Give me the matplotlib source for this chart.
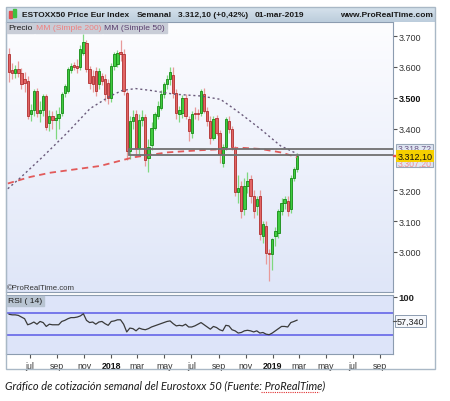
import matplotlib
matplotlib.use('Agg')
import matplotlib.pyplot as plt
import matplotlib.dates as mdates
import numpy as np
import pandas as pd
from matplotlib.patches import Rectangle
from matplotlib.colors import LinearSegmentedColormap

# weekly candles, ESTOXX50
weeks = pd.date_range('2017-05-15', periods=94, freq='7D')
opens = [3641, 3590, 3580, 3592, 3582, 3560, 3554, 3446, 3462, 3522,
         3451, 3462, 3506, 3419, 3440, 3428, 3436, 3452, 3517, 3522,
         3590, 3605, 3603, 3600, 3647, 3679, 3593, 3571, 3587, 3544,
         3571, 3560, 3549, 3500, 3603, 3609, 3650, 3641, 3516, 3326,
         3426, 3446, 3337, 3429, 3437, 3305, 3348, 3402, 3440, 3468,
         3511, 3544, 3560, 3575, 3515, 3446, 3450, 3500, 3431, 3387,
         3452, 3450, 3452, 3512, 3458, 3425, 3371, 3436, 3387, 3290,
         3339, 3425, 3398, 3333, 3193, 3214, 3138, 3214, 3236, 3182,
         3149, 3182, 3052, 3084, 2998, 2992, 3052, 3063, 3133, 3160,
         3165, 3138, 3241, 3268]
highs = [3662, 3612, 3605, 3620, 3596, 3585, 3570, 3480, 3530, 3532,
         3490, 3512, 3514, 3462, 3456, 3460, 3470, 3520, 3546, 3600,
         3612, 3616, 3626, 3670, 3706, 3688, 3603, 3590, 3600, 3596,
         3582, 3576, 3560, 3612, 3650, 3656, 3687, 3660, 3522, 3442,
         3462, 3462, 3446, 3462, 3446, 3365, 3420, 3455, 3490, 3525,
         3550, 3575, 3600, 3600, 3530, 3475, 3510, 3512, 3440, 3456,
         3470, 3465, 3530, 3532, 3470, 3440, 3440, 3445, 3395, 3350,
         3438, 3442, 3410, 3345, 3250, 3230, 3240, 3260, 3250, 3200,
         3180, 3200, 3100, 3100, 3010, 3045, 3080, 3140, 3175, 3180,
         3180, 3250, 3275, 3322]
lows = [3550, 3560, 3565, 3566, 3528, 3520, 3430, 3425, 3440, 3438,
        3420, 3440, 3395, 3392, 3400, 3365, 3398, 3440, 3502, 3515,
        3580, 3590, 3582, 3590, 3640, 3585, 3530, 3520, 3505, 3530,
        3540, 3490, 3480, 3486, 3590, 3600, 3620, 3510, 3298, 3300,
        3400, 3308, 3318, 3410, 3280, 3260, 3330, 3395, 3430, 3460,
        3500, 3530, 3540, 3500, 3430, 3420, 3436, 3430, 3360, 3370,
        3430, 3428, 3440, 3450, 3410, 3350, 3362, 3380, 3290, 3275,
        3330, 3385, 3330, 3180, 3160, 3110, 3120, 3190, 3160, 3110,
        3120, 3040, 3030, 2960, 2906, 2940, 3020, 3045, 3120, 3140,
        3115, 3125, 3230, 3260]
closes = [3585, 3580, 3592, 3582, 3545, 3547, 3442, 3462, 3522, 3451,
          3460, 3506, 3405, 3440, 3428, 3436, 3448, 3511, 3538, 3592,
          3603, 3600, 3598, 3658, 3680, 3593, 3548, 3544, 3522, 3587,
          3556, 3511, 3500, 3603, 3641, 3647, 3641, 3522, 3326, 3426,
          3438, 3337, 3429, 3437, 3299, 3340, 3402, 3446, 3473, 3511,
          3544, 3562, 3585, 3515, 3450, 3462, 3500, 3441, 3393, 3447,
          3449, 3446, 3523, 3458, 3425, 3371, 3431, 3387, 3317, 3339,
          3430, 3398, 3339, 3193, 3209, 3133, 3214, 3230, 3182, 3133,
          3171, 3057, 3090, 2998, 2992, 3041, 3068, 3133, 3160, 3171,
          3133, 3241, 3268, 3312]
rsi = [68, 67, 67, 66, 63, 60, 49, 51, 54, 50,
       55, 53, 46, 50, 49, 49, 49, 55, 57, 60,
       62, 62, 63, 65, 69, 57, 53, 54, 50, 54,
       55, 51, 48, 55, 56, 58, 58, 50, 36, 43,
       42, 38, 43, 41, 40, 42, 45, 47, 49, 51,
       53, 55, 56, 51, 47, 48, 47, 50, 45, 45,
       47, 50, 53, 49, 45, 41, 46, 44, 40, 38,
       48, 47, 40, 38, 34, 35, 38, 39, 38, 36,
       38, 34, 35, 32, 31, 34, 38, 42, 46, 46,
       45, 53, 55, 57.34]

ma50_dates = ['2017-05-12', '2017-06-09', '2017-07-31', '2017-09-23', '2017-11-14',
              '2017-12-30', '2018-01-26', '2018-02-25', '2018-03-31', '2018-05-22',
              '2018-07-22', '2018-09-05', '2018-09-28', '2018-10-21', '2018-12-05',
              '2019-01-19', '2019-02-25']
ma50_vals = [3205, 3240, 3310, 3386, 3465, 3506, 3524, 3530, 3524, 3512,
             3506, 3495, 3472, 3448, 3398, 3344, 3318.72]
ma200_dates = ['2017-05-12', '2017-07-01', '2017-08-16', '2017-12-07', '2018-02-20',
               '2018-05-08', '2018-07-22', '2018-09-05', '2018-10-21', '2018-12-05',
               '2019-01-19', '2019-02-25']
ma200_vals = [3222, 3243, 3257, 3279, 3307, 3323, 3330, 3333, 3338, 3334,
              3323, 3307.2]

price_ticks = [3000, 3100, 3200, 3400, 3500, 3600, 3700]
price_labels = ['3.000', '3.100', '3.200', '3.400', '3.500', '3.600', '3.700']
month_ticks = ['2017-07-01', '2017-09-01', '2017-11-01', '2018-01-01', '2018-03-01',
               '2018-05-01', '2018-07-01', '2018-09-01', '2018-11-01', '2019-01-01',
               '2019-03-01', '2019-05-01', '2019-07-01', '2019-09-01']
month_labels = ['jul', 'sep', 'nov', '2018', 'mar', 'may', 'jul', 'sep', 'nov', '2019',
                'mar', 'may', 'jul', 'sep']
box_start = '2018-02-09'
box_top = 3333
box_bottom = 3316

W, H = 450, 402
fig = plt.figure(figsize=(W / 100, H / 100), dpi=100)
plt.rcParams['font.family'] = ['Liberation Sans', 'DejaVu Sans']


def rect(px0, py0, px1, py1):
    return [px0 / W, 1 - py1 / H, (px1 - px0) / W, (py1 - py0) / H]


xs = mdates.date2num(weeks)
xlim = (mdates.date2num(pd.Timestamp('2017-05-08')), mdates.date2num(pd.Timestamp('2019-09-30')))

# price panel
ax = fig.add_axes(rect(6, 23, 393, 293))
grad = LinearSegmentedColormap.from_list('g', ['#fdfdff', '#dfe6f8'])
ax.imshow(np.linspace(0, 1, 100).reshape(-1, 1), cmap=grad, extent=[0, 1, 0, 1],
          transform=ax.transAxes, aspect='auto', zorder=0)

o = np.array(opens); c = np.array(closes)
up = c >= o
body_lo = np.minimum(o, c)
body_h = np.maximum(np.abs(c - o), 3)
wick_col = np.where(up, '#7fd87f', '#e89a9a')
ax.vlines(xs, lows, highs, colors=wick_col, lw=0.9, zorder=2)
ax.bar(xs[up], body_h[up], bottom=body_lo[up], width=5.2, color='#3fcc3f',
       edgecolor='#158a15', linewidth=0.6, zorder=3)
ax.bar(xs[~up], body_h[~up], bottom=body_lo[~up], width=5.2, color='#e26565',
       edgecolor='#b02f2f', linewidth=0.6, zorder=3)

ax.plot(mdates.date2num(pd.to_datetime(ma200_dates)), ma200_vals, color='#e25a5a',
        lw=1.3, ls=(0, (3.5, 2.5)), zorder=4)
ax.plot(mdates.date2num(pd.to_datetime(ma50_dates)), ma50_vals, color='#6a5a7a',
        lw=1.0, ls=(0, (1.5, 2)), zorder=4)

x0 = mdates.date2num(pd.Timestamp(box_start))
ax.add_patch(Rectangle((x0, box_bottom), xlim[1] - x0 + 50, box_top - box_bottom,
                       fill=False, edgecolor='#707070', lw=1.3, zorder=5))

ax.set_xlim(*xlim)
ax.set_ylim(2870, 3746)
ax.set_xticks([])
ax.yaxis.tick_right()
ax.set_yticks(price_ticks)
ax.set_yticklabels(price_labels)
ax.tick_params(axis='y', labelsize=6.5, length=3, pad=1, color='#555555', labelcolor='#333333')
for t in ax.get_yticklabels():
    if t.get_text() == '3.500':
        t.set_fontweight('bold')
        t.set_color('#111111')
for s in ax.spines.values():
    s.set_color('#8c9cb0')

# RSI panel
rax = fig.add_axes(rect(6, 296, 393, 355))
rax.set_facecolor('#dde4f9')
rax.axhline(70, color='#5a5ae6', lw=1.1)
rax.axhline(30, color='#5a5ae6', lw=1.1)
rax.plot(xs, rsi, color='#3a3a3a', lw=0.9)
rax.set_xlim(*xlim)
rax.set_ylim(-4, 103)
rax.yaxis.tick_right()
rax.set_yticks([100])
rax.set_yticklabels(['100'])
rax.tick_params(axis='y', labelsize=6.8, length=3, pad=1, color='#555555', labelcolor='#222222')
rax.get_yticklabels()[0].set_fontweight('bold')
rax.set_xticks(mdates.date2num(pd.to_datetime(month_ticks)))
rax.set_xticklabels(month_labels)
rax.tick_params(axis='x', labelsize=6.3, length=3, pad=2, color='#555555', labelcolor='#333333')
for t in rax.get_xticklabels():
    if t.get_text() in ('2018', '2019'):
        t.set_fontweight('bold')
        t.set_color('#111111')
for s in rax.spines.values():
    s.set_color('#8c9cb0')

# overlay with title bar, labels, frame, caption (pixel coordinates)
ov = fig.add_axes([0, 0, 1, 1], zorder=10)
ov.patch.set_alpha(0)
tb = LinearSegmentedColormap.from_list('t', ['#d6e2ec', '#bccddc'])
ov.imshow(np.linspace(0, 1, 50).reshape(-1, 1), cmap=tb, extent=[6, 435, 22.5, 8],
          aspect='auto', zorder=1)
ov.add_patch(Rectangle((6, 8), 429, 362, fill=False, edgecolor='#a9b8c6', lw=1, zorder=2))
ov.add_patch(Rectangle((9, 11.5), 2.5, 7, color='#e05050', zorder=3))
ov.add_patch(Rectangle((13, 10), 2.5, 8, color='#40c040', zorder=3))
ov.text(21.5, 15.5, 'ESTOXX50 Price Eur Index', fontsize=6, fontweight='bold', va='center', color='#1a1a1a', zorder=3)
ov.text(137, 15.5, 'Semanal', fontsize=6, fontweight='bold', va='center', color='#1a1a1a', zorder=3)
ov.text(178, 15.5, '3.312,10 (+0,42%)', fontsize=6, fontweight='bold', va='center', color='#1a1a1a', zorder=3)
ov.text(255, 15.5, '01-mar-2019', fontsize=6, fontweight='bold', va='center', color='#1a1a1a', zorder=3)
ov.text(432.5, 15.5, 'www.ProRealTime.com', fontsize=6, fontweight='bold', va='center', ha='right', color='#1a1a1a', zorder=3)

ov.add_patch(Rectangle((6.5, 23.5), 27, 10, color='#c9cdd7', zorder=3))
ov.add_patch(Rectangle((34.5, 23.5), 67.5, 10, color='#c9cdd7', zorder=3))
ov.add_patch(Rectangle((103, 23.5), 64, 10, color='#c9cdd7', zorder=3))
ov.text(8, 28.7, 'Precio', fontsize=6.1, va='center', color='#1a1a1a', zorder=4)
ov.text(36, 28.7, 'MM (Simple 200)', fontsize=6.1, va='center', color='#ef8080', zorder=4)
ov.text(104.5, 28.7, 'MM (Simple 50)', fontsize=6.1, va='center', color='#5a3f6e', zorder=4)

ov.text(7, 289, '\u00a9ProRealTime.com', fontsize=5.6, va='center', color='#333333', zorder=4)
ov.add_patch(Rectangle((6.5, 296.5), 37, 10, color='#b8c4d2', zorder=3))
ov.text(8, 301.5, 'RSI ( 14)', fontsize=6.1, va='center', color='#1a1a1a', zorder=4)

# last value labels on the price scale
ov.add_patch(Rectangle((396, 145), 37, 23, facecolor='#dfe6f3', edgecolor='#9aa8b8', lw=0.8, zorder=3))
ov.text(397.5, 149.5, '3.318,72', fontsize=6.3, va='center', color='#6e5a86', zorder=4)
ov.text(397.5, 164.5, '3.307,20', fontsize=6.3, va='center', color='#f08c8c', zorder=4)
ov.text(397.5, 157, '3.312,10', fontsize=6.5, va='center', color='#111111', zorder=6,
        bbox=dict(boxstyle='square,pad=0.15', facecolor='#f6d000', edgecolor='none'))
ov.add_patch(Rectangle((393, 155.7), 3, 1.5, color='#e05050', zorder=5))

ov.text(396.5, 322, '57,340', fontsize=6.5, va='center', color='#222222', zorder=4,
        bbox=dict(boxstyle='square,pad=0.2', facecolor='#f6f8fc', edgecolor='#8c9cb0', lw=0.7))
ov.plot([393, 396], [322, 322], color='#555555', lw=0.8, zorder=4)

ov.text(5, 386, 'Gráfico de cotización semanal del Eurostoxx 50 (Fuente: ProRealTime)',
        fontsize=7.9, style='italic', family=['Lato', 'DejaVu Sans'], va='center', color='#1a1a1a', zorder=4)
ov.plot([261, 319], [392.5, 392.5], color='#e03030', lw=0.8, ls=(0, (1, 1)), zorder=4)

ov.set_xlim(0, W)
ov.set_ylim(H, 0)
ov.axis('off')

fig.savefig('out.png', dpi=100)
